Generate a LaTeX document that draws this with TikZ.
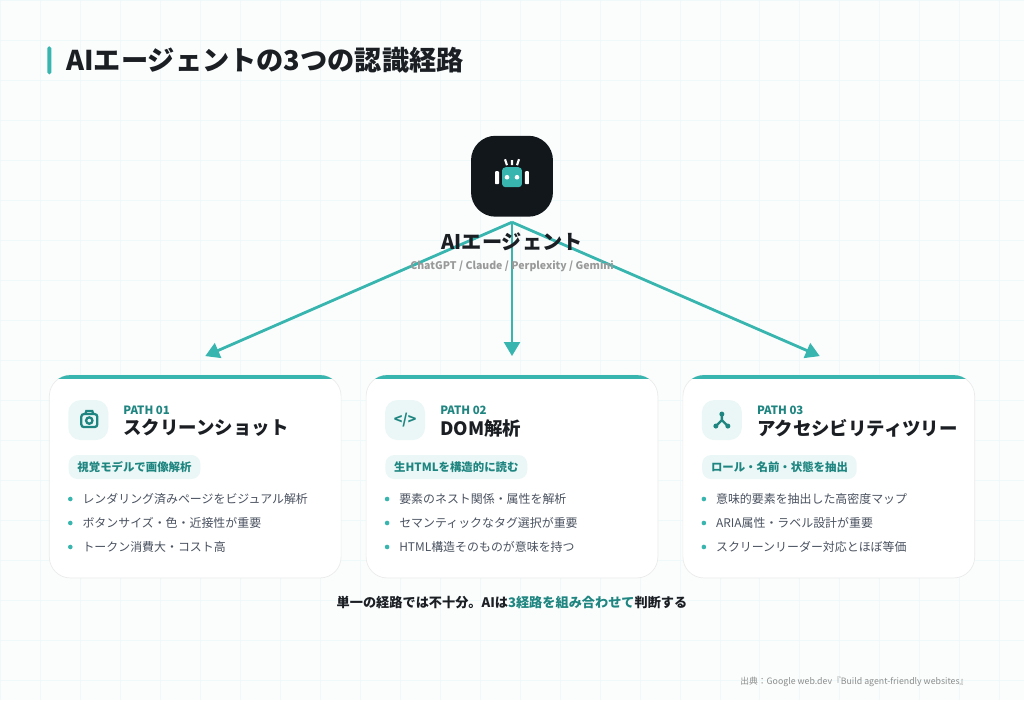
\documentclass[tikz,border=0pt]{standalone}
\usepackage{fontspec}
\setmainfont{Noto Sans CJK JP}
\usetikzlibrary{arrows.meta,positioning}
\definecolor{teal0}{HTML}{38B5AE}
\definecolor{tealdk}{HTML}{1F8580}
\definecolor{tealbg}{HTML}{EAF7F6}
\definecolor{ink}{HTML}{1B1F24}
\definecolor{greytx}{HTML}{4A5260}
\definecolor{botbg}{HTML}{12171C}
\tikzset{
  card/.style={draw=black!8,fill=white,rounded corners=12,minimum width=292*0.02cm,minimum height=203*0.02cm},
  iconbox/.style={fill=tealbg,rounded corners=7,minimum width=40*0.02cm,minimum height=40*0.02cm},
  pathlbl/.style={anchor=west,text=tealdk,font=\fontsize{6.5}{7}\selectfont\bfseries},
  cardtitle/.style={anchor=west,text=ink,font=\fontsize{10.5}{12}\selectfont\bfseries},
  tag/.style={anchor=west,fill=tealbg,rounded corners=5,text=tealdk,inner xsep=5pt,minimum height=24*0.02cm,font=\fontsize{6.5}{7}\selectfont\bfseries},
  bullet/.style={anchor=west,text=greytx,font=\fontsize{6.8}{8}\selectfont},
  flow/.style={teal0,line width=1.6pt,-{Triangle[length=8pt,width=9pt]}}
}
\begin{document}
\begin{tikzpicture}[x=0.02cm,y=-0.02cm]
\fill[white!40!tealbg!35] (0,0) rectangle (1024,700);
\foreach \i in {0,40,...,1024} \draw[tealbg!70,line width=0.4pt] (\i,0) -- (\i,700);
\foreach \j in {0,40,...,700} \draw[tealbg!70,line width=0.4pt] (0,\j) -- (1024,\j);
\useasboundingbox (0,0) rectangle (1024,700);
% title
\fill[teal0,rounded corners=1] (47,46) rectangle (51,74);
\node[anchor=west,text=ink,font=\fontsize{15.5}{18}\selectfont\bfseries] (title) at (60,60) {AIエージェントの3つの認識経路};
% agent
\node[fill=botbg,rounded corners=14,minimum width=82*0.02cm,minimum height=81*0.02cm] (bot) at (512,176) {};
\fill[teal0,rounded corners=2] (502,167) rectangle (522,187);
\fill[white] (507,177) circle (2.3) (517,177) circle (2.3);
\fill[white,rounded corners=0.5] (495,171) rectangle (499,184) (525,171) rectangle (529,184);
\draw[white,line width=1.2pt] (512,160) -- (512,165) (505,159) -- (507,165) (519,159) -- (517,165);
\coordinate (hub) at (512,222);
\coordinate (e1) at (205,356);
\coordinate (e2) at (512,356);
\coordinate (e3) at (820,356);
\foreach \e in {e1,e2,e3} \draw[flow] (hub) -- (\e);
\node[text=ink,font=\fontsize{11.5}{13}\selectfont\bfseries] (agent) at (512,242) {AIエージェント};
\node[text=black!40,font=\fontsize{6}{7}\selectfont\bfseries] (models) at (512,266) {ChatGPT / Claude / Perplexity / Gemini};
% cards
\foreach \x/\n/\t/\g/\a/\b/\c in {
  49/01/スクリーンショット/視覚モデルで画像解析/レンダリング済みページをビジュアル解析/ボタンサイズ・色・近接性が重要/トークン消費大・コスト高,
  366/02/DOM解析/生HTMLを構造的に読む/要素のネスト関係・属性を解析/セマンティックなタグ選択が重要/HTML構造そのものが意味を持つ,
  683/03/アクセシビリティツリー/ロール・名前・状態を抽出/意味的要素を抽出した高密度マップ/ARIA属性・ラベル設計が重要/スクリーンリーダー対応とほぼ等価}{
  \node[card] (card\n) at (\x+146,476.5) {};
  \begin{scope}
    \clip[rounded corners=12] (\x,375) rectangle (\x+292,578);
    \fill[teal0] (\x,375) rectangle (\x+292,379);
  \end{scope}
  \node[iconbox] (icon\n) at (\x+39,420) {};
  \node[pathlbl] (path\n) at (\x+68,410) {PATH \n};
  \node[cardtitle] (name\n) at (\x+68,428) {\t};
  \node[tag] (tag\n) at (\x+19,467) {\g};
  \foreach \y/\s in {499/\a,523/\b,547/\c}{
    \fill[teal0] (\x+21,\y) circle (2.3);
    \node[bullet] at (\x+27,\y) {\s};
  }
}
% icons
\draw[tealdk,line width=1.3pt,rounded corners=1.5] (81,414) rectangle (97,427);
\draw[tealdk,line width=1.3pt] (89,420.5) circle (3.2) (85,414) -- (86,411) -- (92,411) -- (93,414);
\node[text=tealdk,font=\fontsize{8}{9}\selectfont\bfseries] at (405,420) {</>};
\fill[tealdk] (722,414) circle (2.5) (716,426) circle (2.5) (728,426) circle (2.5);
\draw[tealdk,line width=1.3pt] (722,414) -- (722,420) -- (716,426) (722,420) -- (728,426);
% footer
\node[text=ink,font=\fontsize{7.5}{9}\selectfont\bfseries] (summary) at (512,603) {単一の経路では不十分。AIは\textcolor{tealdk}{3経路を組み合わせて}判断する};
\node[anchor=east,text=black!45,font=\fontsize{5}{6}\selectfont] (source) at (975,682) {出典：Google web.dev『Build agent-friendly websites』};
\end{tikzpicture}
\end{document}
